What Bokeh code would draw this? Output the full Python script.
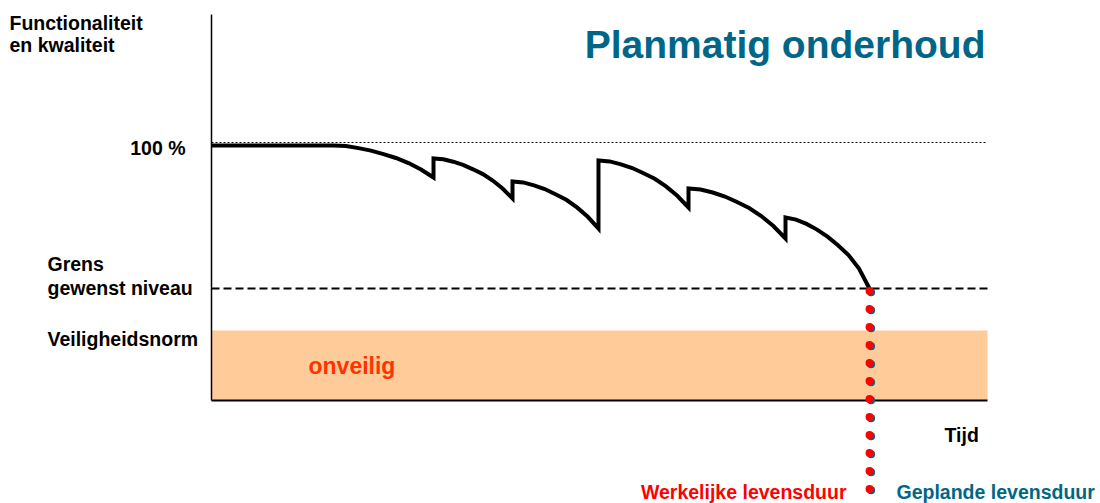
from bokeh.plotting import figure
from bokeh.models import Range1d, Label
from bokeh.embed import file_html
from bokeh.resources import INLINE

# ---- data (conceptual units: time 0..100, functionality %) ----
curve_t = [0, 15.72, 17.33, 18.94, 20.55, 22.16, 23.77, 25.39, 27.0, 28.61,
           28.61, 29.88, 31.15, 32.42, 33.70, 34.97, 36.24, 37.51, 38.79,
           38.79, 40.17, 41.56, 42.94, 44.33, 45.72, 47.10, 48.49, 49.87,
           49.87, 51.32, 52.77, 54.22, 55.67, 57.12, 58.57, 60.02, 61.47,
           61.47, 63.03, 64.59, 66.16, 67.72, 69.28, 70.84, 72.41, 73.97,
           73.97, 75.32, 76.68, 78.03, 79.38, 80.73, 82.09, 83.44, 84.79]
curve_q = [98.84, 98.84, 98.60, 97.83, 96.86, 95.50, 93.99, 92.02, 89.53, 86.43,
           93.80, 93.49, 92.56, 91.32, 89.61, 87.75, 85.27, 82.17, 78.29,
           84.88, 84.53, 83.41, 81.98, 79.96, 77.79, 74.84, 71.20, 66.67,
           93.02, 92.67, 91.55, 90.12, 88.10, 85.93, 82.99, 79.34, 74.81,
           82.17, 81.78, 80.62, 79.07, 76.94, 74.61, 71.51, 67.64, 62.79,
           70.93, 70.12, 68.45, 66.24, 63.49, 60.19, 56.36, 51.12, 43.41]
level_full = 100.0
level_grens = 43.4
level_safety = 27.1
t_end = 100.0
t_life = 84.8
q_top = 149.6
dots_top = 42.4
dots_bottom = -35.0

FONT = "Liberation Sans"
TEAL = "#006687"

# pixel mapping helpers (screen px -> data units), used only for label placement
SX, X0 = 7.76, 211.0
SY, Y0 = 2.58, 400.0
def dx(px):
    return (px - X0) / SX
def dy(py):
    return (Y0 - py) / SY

W, H = 1100, 503
p = figure(width=W, height=H, output_backend="svg", toolbar_location=None,
           x_range=Range1d(dx(0), dx(W)), y_range=Range1d(dy(H), dy(0)),
           min_border=0, outline_line_color=None)
p.axis.visible = False
p.grid.visible = False
p.background_fill_color = "white"

# unsafe band
p.quad(left=0, right=t_end, bottom=0, top=level_safety, fill_color="#FFCC99", line_color=None)

# reference lines
p.line([0, t_end], [level_full, level_full], line_color="black", line_width=1.2, line_dash="2 2")
p.line([0, t_end], [level_grens, level_grens], line_color="black", line_width=2, line_dash="8 4")

# axes
p.line([0, 0], [0, q_top], line_color="black", line_width=1.5)
p.line([0, t_end], [0, 0], line_color="black", line_width=2)

# curve
p.line(curve_t, curve_q, line_color="black", line_width=4, line_join="miter")

# lifetime dotted lines (planned = blue behind, actual = red)
p.line([t_life + 0.2, t_life + 0.2], [dots_top - 0.4, dots_bottom - 0.4], line_color=TEAL,
       line_width=8, line_dash="0 18", line_cap="round")
p.line([t_life, t_life], [dots_top, dots_bottom], line_color="#FF0000",
       line_width=8, line_dash="0 18", line_cap="round")

def lab(px, py, text, size="19.5px", color="black", align="left"):
    p.add_layout(Label(x=dx(px), y=dy(py), text=text, text_font=FONT, text_font_style="bold",
                       text_font_size=size, text_color=color, text_align=align,
                       text_baseline="middle"))

lab(9, 22, "Functionaliteit")
lab(9, 44, "en kwaliteit")
lab(185, 147, "100 %", align="right")
lab(47, 263, "Grens")
lab(47, 287, "gewenst niveau")
lab(47, 338, "Veiligheidsnorm")
lab(308, 365, "onveilig", size="23px", color="#FF3300")
lab(944, 434, "Tijd")
lab(846, 491, "Werkelijke levensduur", color="#FF0000", align="right")
lab(896, 491, "Geplande levensduur", color=TEAL)
lab(985, 44, "Planmatig onderhoud", size="39px", color=TEAL, align="right")

open("out.html", "w").write(file_html(p, INLINE))
